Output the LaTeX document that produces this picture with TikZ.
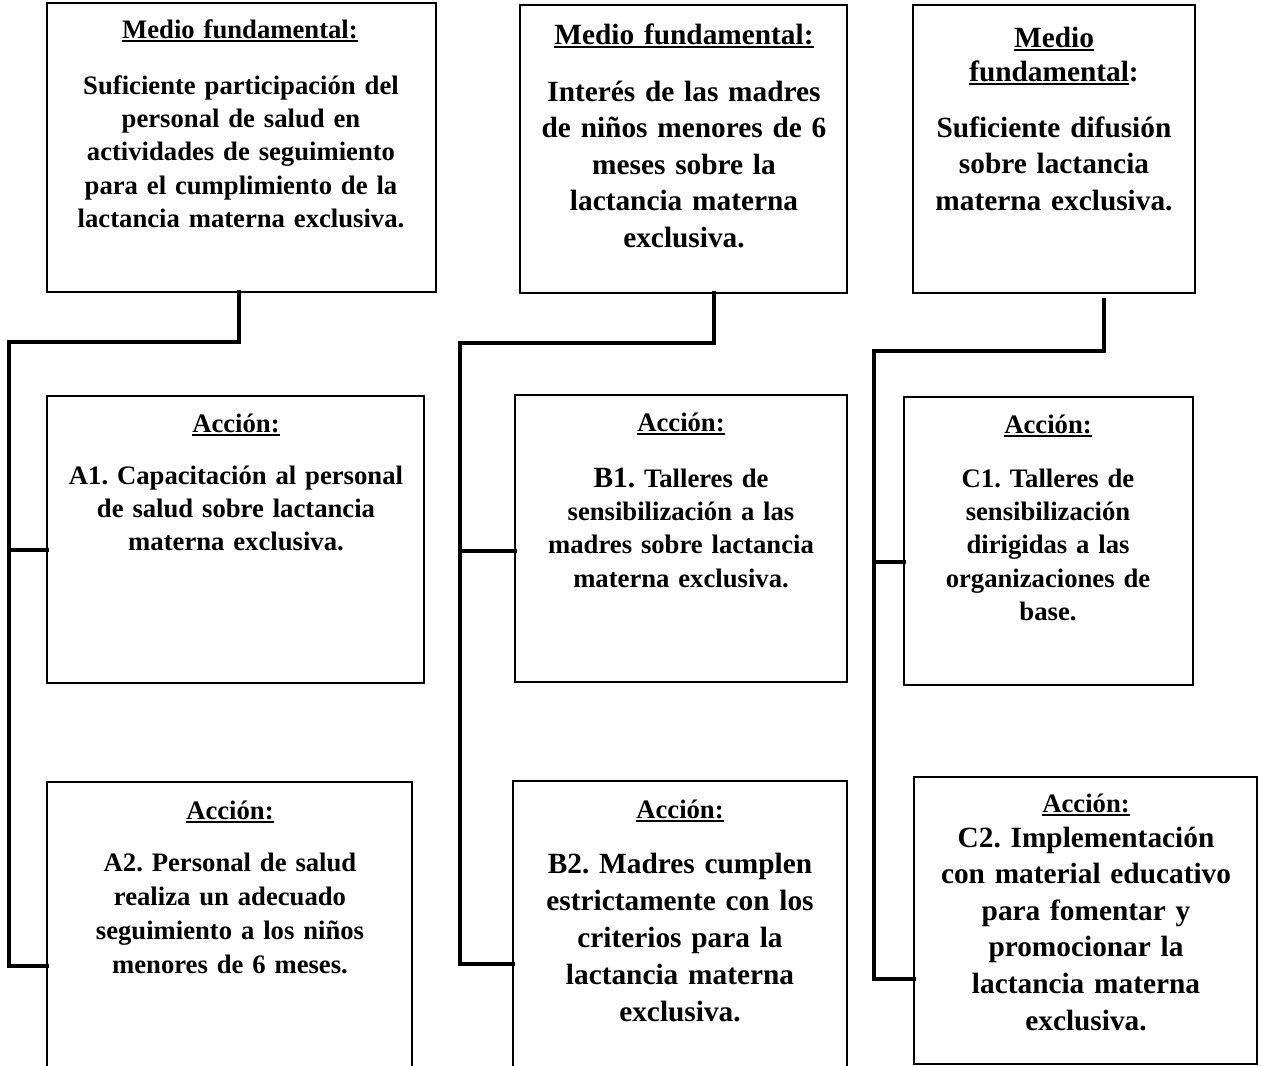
\documentclass[tikz,border=0pt]{standalone}
\usepackage{fontspec}
\setmainfont{Liberation Serif}
\frenchspacing
\newsavebox\ulbox
\newcommand\ulx[1]{\leavevmode\sbox\ulbox{#1}\rlap{\rule[-0.14em]{\wd\ulbox}{0.07em}}\usebox\ulbox}
\newcommand\mkbox[5]{\node[boxst, minimum width={(#4-#2)*0.75pt}, minimum height={(#5-#3)*0.75pt}] (#1) at ({(#2+#4)/2},{(#3+#5)/2}) {};}
\begin{document}
\begin{tikzpicture}[x=0.75pt,y=-0.75pt,
  boxst/.style={draw, line width=1.1pt, inner sep=0pt, outer sep=0pt},
  conn/.style={line width=2.5pt, line join=miter, line cap=rect},
  txt/.style n args={2}{font=\fontsize{#1pt}{#2pt}\selectfont\bfseries\frenchspacing, text width=300pt, align=center, anchor=base, inner sep=0pt}]
\useasboundingbox (0,0) rectangle (1262,1065);
\fill[white] (0,0) rectangle (1262,1065);
\clip (0,0) rectangle (1262,1065);
% boxes
\mkbox{M1}{47}{3}{436}{292}
\mkbox{M2}{520}{5}{847}{293}
\mkbox{M3}{913}{5}{1195}{293}
\mkbox{A1}{47}{396}{424}{683}
\mkbox{B1}{515}{395}{847}{682}
\mkbox{C1}{904}{397}{1193}{685}
\mkbox{A2}{47}{782}{412}{1080}
\mkbox{B2}{513}{781}{847}{1080}
\mkbox{C2}{914}{777}{1257}{1064}
% texts
\node[txt={20}{25}] (hM1) at (240,38) {\ulx{Medio fundamental:}};
\node[txt={20}{25}] (tM1) at (241,94) {Suficiente participación del\\personal de salud en\\actividades de seguimiento\\para el cumplimiento de la\\lactancia materna exclusiva.};
\node[txt={22}{27.4}] (hM2) at (684,44) {\ulx{Medio fundamental:}};
\node[txt={22}{27.4}] (tM2) at (684,101) {Interés de las madres\\de niños menores de 6\\meses sobre la\\lactancia materna\\exclusiva.};
\node[txt={22}{25.5}] (hM3) at (1054,47) {\ulx{Medio}\\\ulx{fundamental}:};
\node[txt={22}{27.4}] (tM3) at (1054,137) {Suficiente difusión\\sobre lactancia\\materna exclusiva.};
\node[txt={20}{25.1}] (hA1) at (236,432) {\ulx{Acción:}};
\node[txt={20}{25.1}] (tA1) at (236,484) {A1. Capacitación al personal\\de salud sobre lactancia\\materna exclusiva.};
\node[txt={20}{25.1}] (hB1) at (681,431) {\ulx{Acción:}};
\node[txt={20}{25.1}] (tB1) at (681,487) {{\fontsize{22pt}{25.1pt}\selectfont B1.} Talleres de\\sensibilización a las\\madres sobre lactancia\\materna exclusiva.};
\node[txt={20}{25}] (hC1) at (1048,433) {\ulx{Acción:}};
\node[txt={20}{25}] (tC1) at (1048,487) {C1. Talleres de\\sensibilización\\dirigidas a las\\organizaciones de\\base.};
\node[txt={20}{25.5}] (hA2) at (230,819) {\ulx{Acción:}};
\node[txt={20}{25.5}] (tA2) at (230,871) {A2. Personal de salud\\realiza un adecuado\\seguimiento a los niños\\menores de 6 meses.};
\node[txt={20}{27.75}] (hB2) at (680,818) {\ulx{Acción:}};
\node[txt={22}{27.75}] (tB2) at (680,873) {B2. Madres cumplen\\estrictamente con los\\criterios para la\\lactancia materna\\exclusiva.};
\node[txt={20}{27.45}] (hC2) at (1086,812) {\ulx{Acción:}};
\node[txt={22}{27.45}] (tC2) at (1086,847) {C2. Implementación\\con material educativo\\para fomentar y\\promocionar la\\lactancia materna\\exclusiva.};
% connector coordinates
\coordinate (aT) at (239,342); \coordinate (aL) at (9,342);
\coordinate (aM) at (9,550);   \coordinate (aB) at (9,966);
\coordinate (bT) at (714,343); \coordinate (bL) at (460,343);
\coordinate (bM) at (460,551); \coordinate (bB) at (460,964);
\coordinate (cS) at (1104,300); \coordinate (cT) at (1104,351);
\coordinate (cL) at (874,351); \coordinate (cM) at (874,562);
\coordinate (cB) at (874,979);
% connectors
\draw[conn] (M1.south -| aT) -- (aT) -- (aL) -- (aB) -- (A2.west |- aB);
\draw[conn] (aM) -- (A1.west |- aM);
\draw[conn] (M2.south -| bT) -- (bT) -- (bL) -- (bB) -- (B2.west |- bB);
\draw[conn] (bM) -- (B1.west |- bM);
\draw[conn] (cS) -- (cT) -- (cL) -- (cB) -- (C2.west |- cB);
\draw[conn] (cM) -- (C1.west |- cM);
\end{tikzpicture}
\end{document}
